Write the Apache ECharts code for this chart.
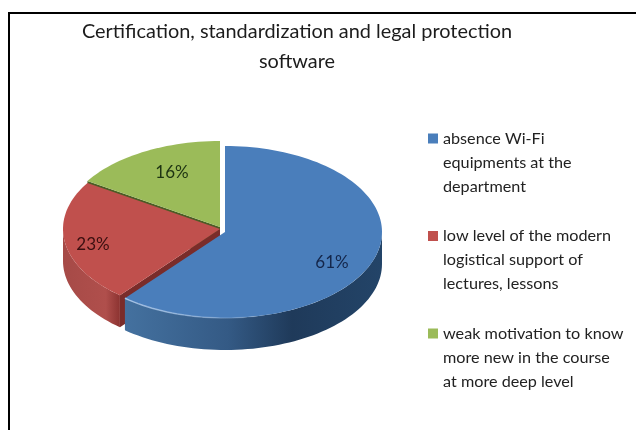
<!DOCTYPE html>
<html>
<head>
<meta charset="utf-8">
<style>
  html, body { margin: 0; padding: 0; background: #fff; }
  #chart { width: 636px; height: 430px; }
</style>
<script src="https://cdn.jsdelivr.net/npm/echarts@6/dist/echarts.min.js"></script>
</head>
<body>
<div id="chart"></div>
<script>
  const titleText = 'Certification, standardization and legal protection\nsoftware'
  const categories = [
    'weak motivation to know\nmore new in the course\nat more deep level',
    'low level of the modern\nlogistical support of\nlectures, lessons',
    'absence Wi-Fi\nequipments at the\ndepartment'
  ]
  // percent, clockwise from 12 o'clock: blue, red, green
  const blueValues = [61]
  const redValues = [23]
  const greenValues = [16]
  const legendOrder = [categories[2], categories[1], categories[0]]

  const RX = 157
  const RY = 86
  const DEPTH = 32
  const FONT = 'Lato, sans-serif'

  const slices = [
    {
      name: categories[2], values: blueValues, start: 0,
      cx: 225, cy: 232,
      top: '#4a7ebb', wall: '#2c4d75', labelColor: '#14264a', labelPos: [332, 263],
      side: [[0, '#44719f'], [0.4, '#345a85'], [0.65, '#1f3a5a'], [1, '#234468']],
      rim: ['#a9c6e8', 'rgba(169,198,232,0)'], rimRange: [125, 270]
    },
    {
      name: categories[1], values: redValues, start: 61,
      cx: 220, cy: 229,
      top: '#c0504d', wall: '#7a2c2a', labelColor: '#3a0f10', labelPos: [93, 245],
      side: [[0, '#a64a47'], [0.75, '#b04f4c'], [1, '#8c3331']]
    },
    {
      name: categories[0], values: greenValues, start: 84,
      cx: 220, cy: 227,
      top: '#9bbb59', wall: '#4c5c25', labelColor: '#1d3312', labelPos: [172, 173]
    }
  ]

  // angle in degrees, clockwise from the top of the ellipse
  function rimPoint (s, deg, dy) {
    const a = deg * Math.PI / 180
    return [s.cx + RX * Math.sin(a), s.cy - RY * Math.cos(a) + (dy || 0)]
  }

  function arcPoints (s, from, to, dy) {
    const pts = []
    const n = Math.max(2, Math.ceil(Math.abs(to - from) / 2))
    for (let i = 0; i <= n; i++) {
      pts.push(rimPoint(s, from + (to - from) * i / n, dy))
    }
    return pts
  }

  function sliceRenderer (s) {
    return (params, api) => {
      const from = api.value(1) * 3.6
      const to = from + api.value(0) * 3.6
      const kids = []
      const first = rimPoint(s, from)

      // wall of the cut at the start of the slice
      kids.push({
        type: 'polygon',
        shape: { points: [[s.cx, s.cy], first, [first[0], first[1] + DEPTH], [s.cx, s.cy + DEPTH]] },
        style: { fill: s.wall }
      })

      // outer wall, only the front half of the ellipse shows
      const a0 = Math.max(from, 90)
      const a1 = Math.min(to, 270)
      if (s.side && a1 > a0) {
        const topArc = arcPoints(s, a0, a1, 0)
        const lowArc = arcPoints(s, a1, a0, DEPTH)
        const xs = topArc.map(p => p[0])
        kids.push({
          type: 'polygon',
          shape: { points: topArc.concat(lowArc) },
          style: {
            fill: new echarts.graphic.LinearGradient(
              Math.min(...xs), 0, Math.max(...xs), 0,
              s.side.map(c => ({ offset: c[0], color: c[1] })),
              true
            )
          }
        })
      }

      kids.push({
        type: 'polygon',
        shape: { points: [[s.cx, s.cy]].concat(arcPoints(s, from, to, 0)) },
        style: { fill: s.top }
      })

      if (s.rim) {
        kids.push({
          type: 'polyline',
          shape: { points: arcPoints(s, a0, a1, 0) },
          style: {
            fill: null,
            lineWidth: 1.5,
            stroke: new echarts.graphic.LinearGradient(
              s.rimRange[0], 0, s.rimRange[1], 0,
              [{ offset: 0, color: s.rim[0] }, { offset: 1, color: s.rim[1] }],
              true
            )
          }
        })
      }

      kids.push({
        type: 'text',
        x: s.labelPos[0],
        y: s.labelPos[1],
        style: {
          text: api.value(0) + '%',
          font: '17px ' + FONT,
          fill: s.labelColor,
          align: 'center',
          verticalAlign: 'middle'
        }
      })

      return { type: 'group', children: kids }
    }
  }

  const chart = echarts.init(document.getElementById('chart'), null, { renderer: 'canvas' })

  // drawn back to front: green, red, then blue over the red wall
  const series = slices.slice().reverse().map(s => ({
    type: 'custom',
    name: s.name,
    coordinateSystem: 'none',
    silent: true,
    itemStyle: { color: s.top },
    data: s.values.map(v => [v, s.start]),
    renderItem: sliceRenderer(s)
  }))

  chart.setOption({
    animation: false,
    backgroundColor: '#fff',
    title: {
      text: titleText,
      left: 292,
      top: 12,
      textAlign: 'center',
      textStyle: {
        fontFamily: FONT,
        fontSize: 19.9,
        fontWeight: 'normal',
        color: '#1c1c1c',
        lineHeight: 30
      }
    },
    legend: {
      data: legendOrder,
      orient: 'vertical',
      left: 423,
      top: 73.5,
      icon: 'rect',
      itemWidth: 10,
      itemHeight: 10,
      itemGap: -22.5,
      // two blank lines put the first real line level with the marker
      formatter: name => '\n\n' + name,
      textStyle: {
        fontFamily: FONT,
        fontSize: 16.2,
        color: '#222',
        lineHeight: 24
      }
    },
    graphic: [
      { type: 'line', shape: { x1: 9, y1: 13, x2: 636, y2: 13 }, style: { stroke: '#000', lineWidth: 2 } },
      { type: 'line', shape: { x1: 9, y1: 12, x2: 9, y2: 430 }, style: { stroke: '#000', lineWidth: 2 } }
    ],
    series
  })
</script>
</body>
</html>
